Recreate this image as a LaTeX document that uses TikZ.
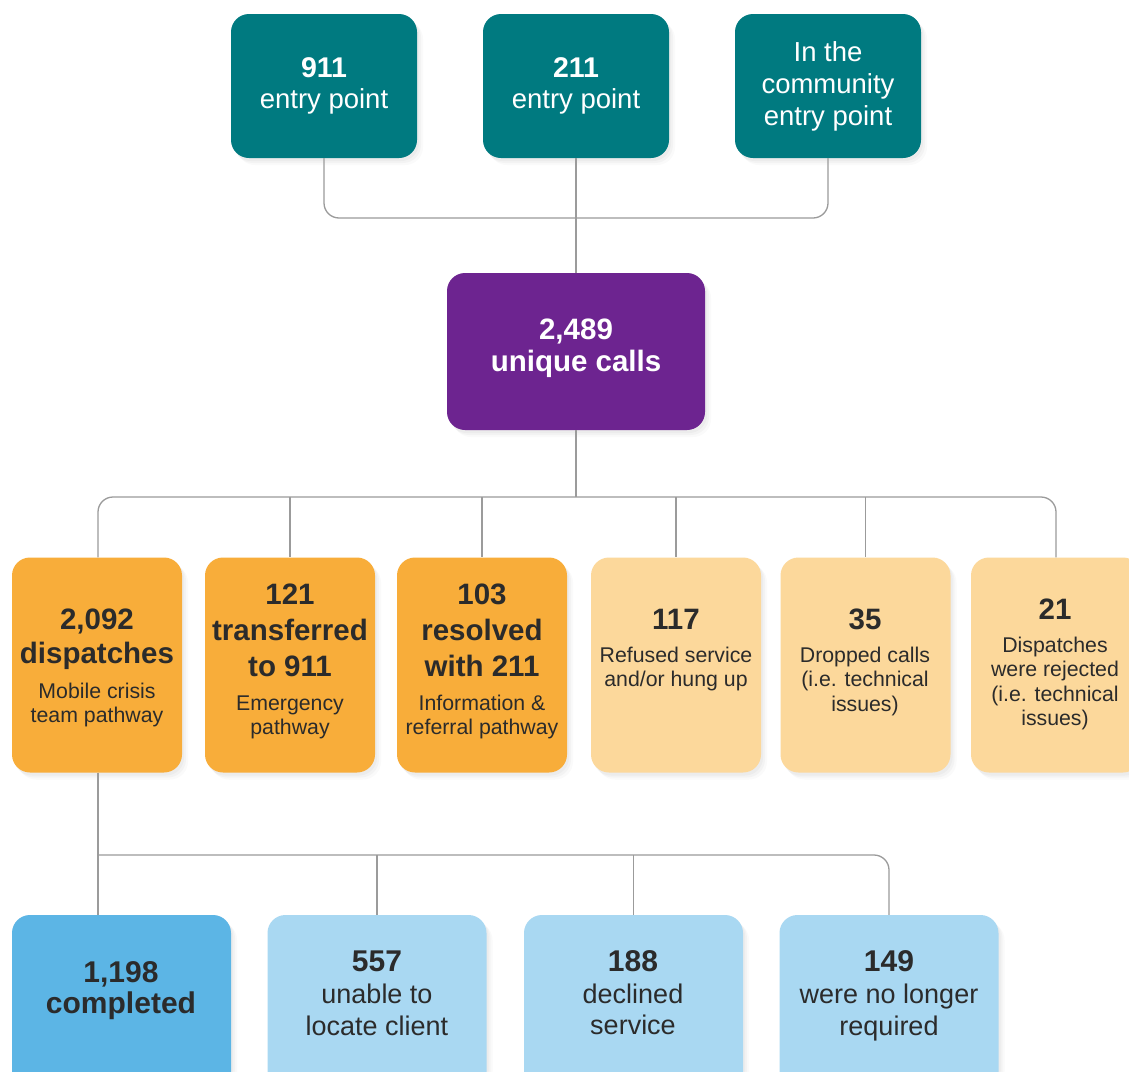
\documentclass[tikz,border=0pt]{standalone}
\usepackage{fontspec}
\setmainfont{Liberation Sans}
\usetikzlibrary{shadows}
\definecolor{tealbox}{HTML}{007A80}
\definecolor{purpbox}{HTML}{6D2490}
\definecolor{orngbox}{HTML}{F8AD3A}
\definecolor{lorngbox}{HTML}{FCD89B}
\definecolor{blubox}{HTML}{5CB5E5}
\definecolor{lblubox}{HTML}{A9D8F2}
\definecolor{ink}{HTML}{2B2B2B}
\definecolor{wire}{HTML}{9B9B9B}
\newcommand\fTopB{\bfseries\fontsize{28.5}{32}\selectfont}
\newcommand\fTopR{\fontsize{27.5}{32}\selectfont}
\newcommand\fMidB{\bfseries\fontsize{29.5}{35}\selectfont}
\newcommand\fMidR{\fontsize{21.3}{25}\selectfont}
\newcommand\fBotB{\bfseries\fontsize{30}{34}\selectfont}
\newcommand\fBotR{\fontsize{27}{32}\selectfont}
\newcommand\txtlines[4]{%
  \foreach \yy/\lsty/\ltxt [count=\k] in {#4}
    \node[lbl, text=#3] (#1\k) at (#2,\yy) {\lsty\ltxt};}
\begin{document}
\begin{tikzpicture}[x=1pt,y=-1pt,
  box/.style={rounded corners=18pt, inner sep=0pt, draw=none,
    drop shadow={shadow xshift=6pt, shadow yshift=-7pt, opacity=0.04},
    drop shadow={shadow xshift=4pt, shadow yshift=-5pt, opacity=0.05},
    drop shadow={shadow xshift=2pt, shadow yshift=-3pt, opacity=0.06}},
  topbox/.style={box, fill=tealbox, minimum width=186pt, minimum height=144pt},
  callbox/.style={box, fill=purpbox, minimum width=258pt, minimum height=157pt},
  midbox/.style={box, fill=#1, minimum width=170pt, minimum height=215pt},
  botbox/.style={box, fill=#1, minimum width=219pt, minimum height=192pt},
  lbl/.style={anchor=base, inner sep=0pt},
  conn/.style={draw=wire, line width=1.3pt, rounded corners=15pt}]
\useasboundingbox[fill=white] (0,0) rectangle (1129,1071);

% boxes
\node[topbox] (e911) at (324,86) {};
\node[topbox] (e211) at (576,86) {};
\node[topbox] (ecom) at (828,86) {};
\node[callbox] (calls) at (576,351.5) {};
\node[midbox=orngbox] (o1) at (97,665) {};
\node[midbox=orngbox] (o2) at (290,665) {};
\node[midbox=orngbox] (o3) at (482,665) {};
\node[midbox=lorngbox] (o4) at (676,665) {};
\node[midbox=lorngbox] (o5) at (865.5,665) {};
\node[midbox=lorngbox] (o6) at (1056,665) {};
\node[botbox=blubox] (c1) at (121.5,1011) {};
\node[botbox=lblubox] (c2) at (377,1011) {};
\node[botbox=lblubox] (c3) at (633.5,1011) {};
\node[botbox=lblubox] (c4) at (889,1011) {};

% hubs
\coordinate (hub1) at (576,218);
\coordinate (hub2) at (576,497);
\coordinate (hub3) at (98,855);

% connectors
\draw[conn] (e911.south) |- (hub1) -| (ecom.south);
\draw[conn] (e211.south) -- (calls.north);
\draw[conn] (calls.south) -- (hub2);
\draw[conn] ([xshift=1pt]o1.north) |- (hub2) -| (o6.north);
\foreach \b in {o2,o3,o4,o5}
  \draw[conn] (\b.north |- hub2) -- (\b.north);
\draw[conn] ([xshift=1pt]o1.south) -- (hub3 |- c1.north);
\draw[conn] (hub3) -| (c4.north);
\foreach \b in {c2,c3}
  \draw[conn] (\b.north |- hub3) -- (\b.north);

% texts
\txtlines{ta}{324}{white}{77/\fTopB/{911}, 108/\fTopR/{entry point}}
\txtlines{tb}{576}{white}{77/\fTopB/{211}, 108/\fTopR/{entry point}}
\txtlines{tc}{828}{white}{61/\fTopR/{In the}, 93/\fTopR/{community}, 125/\fTopR/{entry point}}
\txtlines{tp}{576}{white}{339/\fMidB/{2,489}, 371/\fMidB/{unique calls}}
\txtlines{t1}{97}{ink}{629/\fMidB/{2,092}, 663/\fMidB/{dispatches}, 698.5/\fMidR/{Mobile crisis}, 722.5/\fMidR/{team pathway}}
\txtlines{t2}{290}{ink}{604.5/\fMidB/{121}, 640.5/\fMidB/{transferred}, 676.5/\fMidB/{to 911}, 710/\fMidR/{Emergency}, 734/\fMidR/{pathway}}
\txtlines{t3}{482}{ink}{604.5/\fMidB/{103}, 640.5/\fMidB/{resolved}, 676.5/\fMidB/{with 211}, 710/\fMidR/{Information \&}, 734/\fMidR/{referral pathway}}
\txtlines{t4}{676}{ink}{629/\fMidB/{117}, 662/\fMidR/{Refused service}, 686/\fMidR/{and/or hung up}}
\txtlines{t5}{865}{ink}{629/\fMidB/{35}, 662/\fMidR/{Dropped calls}, 686.5/\fMidR/{(i.e. technical}, 711/\fMidR/{issues)}}
\txtlines{t6}{1055}{ink}{619.5/\fMidB/{21}, 652/\fMidR/{Dispatches}, 676.5/\fMidR/{were rejected}, 701/\fMidR/{(i.e. technical}, 725.5/\fMidR/{issues)}}
\txtlines{u1}{121}{ink}{982.5/\fBotB/{1,198}, 1013.5/\fBotB/{completed}}
\txtlines{u2}{377}{ink}{971/\fBotB/{557}, 1003.5/\fBotR/{unable to}, 1035/\fBotR/{locate client}}
\txtlines{u3}{633}{ink}{971/\fBotB/{188}, 1003.5/\fBotR/{declined}, 1034.5/\fBotR/{service}}
\txtlines{u4}{889}{ink}{971/\fBotB/{149}, 1003.5/\fBotR/{were no longer}, 1035/\fBotR/{required}}
\end{tikzpicture}
\end{document}
